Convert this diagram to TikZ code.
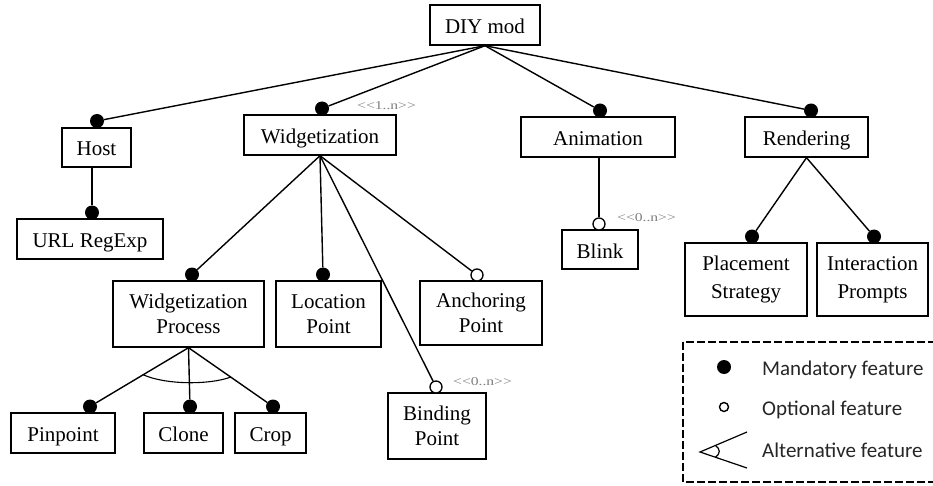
\documentclass[tikz,border=0pt]{standalone}
\usepackage{fontspec}
\setmainfont{Liberation Serif}
\newfontfamily\legendfont{Carlito}
\usetikzlibrary{calc,shadows}
\begin{document}
\begin{tikzpicture}[x=1pt,y=-1pt,
  feat/.style 2 args={draw, line width=1.4pt, fill=white, inner sep=0pt,
    minimum width=#1, minimum height=#2, align=center,
    font=\fontsize{21}{25}\selectfont,
    drop shadow={shadow xshift=1.2pt, shadow yshift=-1.2pt, fill=black!60, opacity=0.7}},
  oneline/.style={text height=17pt, text depth=0pt},
  wide/.style={font=\fontsize{21}{28}\selectfont},
  mand/.style={circle, fill=black, inner sep=0pt, minimum size=14pt},
  opt/.style={circle, draw, line width=1.3pt, fill=white, inner sep=0pt, minimum size=12pt},
  link/.style={line width=1.4pt},
  card/.style={text=black!50, inner sep=0pt, anchor=west,
    font=\fontsize{12}{12}\selectfont}]
\clip (0,0) rectangle (933,486);
\fill[white] (0,0) rectangle (933,486);

% feature boxes
\node[feat={110}{40}, oneline] (diy) at (485,25) {DIY mod};
\node[feat={69}{39}, oneline] (host) at (96.5,147.5) {Host};
\node[feat={146}{40}, oneline] (url) at (90,239) {URL RegExp};
\node[feat={152}{40}, oneline] (widg) at (320,135) {Widgetization};
\node[feat={154}{40}, oneline] (anim) at (598,137) {Animation};
\node[feat={123}{40}, oneline] (rend) at (806.5,137) {Rendering};
\node[feat={76}{39}, oneline] (blink) at (600,249.5) {Blink};
\node[feat={122}{73}, wide] (place) at (746,279.5) {Placement\\Strategy};
\node[feat={111}{73}, wide] (inter) at (872.5,279.5) {Interaction\\Prompts};
\node[feat={151}{66}] (wproc) at (188.5,314) {Widgetization\\Process};
\node[feat={105}{66}] (loc) at (328.5,314) {Location\\Point};
\node[feat={122}{64}] (anch) at (481,313) {Anchoring\\Point};
\node[feat={98}{66}] (bind) at (437,426) {Binding\\Point};
\node[feat={104}{40}, oneline] (pin) at (63,433) {Pinpoint};
\node[feat={79}{40}, oneline] (clone) at (183.5,433) {Clone};
\node[feat={71}{40}, oneline] (crop) at (270.5,433) {Crop};

% mandatory / optional markers
\node[mand] (hostdot) at (97,121) {};
\node[mand] (widgdot) at (322,108.5) {};
\node[mand] (animdot) at (600,110.5) {};
\node[mand] (renddot) at (811,110.5) {};
\node[mand] (urldot) at (92,212.5) {};
\node[opt] (blinkdot) at (599,224) {};
\node[mand] (placedot) at (752,236.5) {};
\node[mand] (interdot) at (874,236.5) {};
\node[mand] (wprocdot) at (192,274.5) {};
\node[mand] (locdot) at (323,274.5) {};
\node[opt] (anchdot) at (477,275) {};
\node[opt] (binddot) at (436,387) {};
\node[mand] (pindot) at (90,406.5) {};
\node[mand] (clonedot) at (190,406.5) {};
\node[mand] (cropdot) at (273,406.5) {};

% connectors
\draw[link] (diy.south) -- (hostdot);
\draw[link] (diy.south) -- (widgdot);
\draw[link] (diy.south) -- (animdot);
\draw[link] (diy.south) -- (renddot);
\draw[link] (host.south -| urldot) -- (urldot);
\draw[link] (anim.south -| blinkdot) -- (blinkdot);
\draw[link] (rend.south) -- (placedot);
\draw[link] (rend.south) -- (interdot);
\draw[link] (widg.south) -- (wprocdot);
\draw[link] (widg.south) -- (locdot);
\draw[link] (widg.south) -- (anchdot);
\draw[link] (widg.south) -- (binddot);
\draw[link] (wproc.south) -- (pindot);
\draw[link] (wproc.south) -- (clonedot);
\draw[link] (wproc.south) -- (cropdot);

% alternative-group arc
\coordinate (altl) at ($(wproc.south)!0.46!(pindot.center)$);
\coordinate (altr) at ($(wproc.south)!0.5!(cropdot.center)$);
\draw[line width=1.1pt] (altl) .. controls +(22,10) and +(-22,8) .. (altr);

% cardinalities
\node[card] (cwidg) at (357,106) {\scalebox{1.3}[1]{<{}<1..n>{}>}};
\node[card] (cblink) at (617,218) {\scalebox{1.3}[1]{<{}<0..n>{}>}};
\node[card] (cbind) at (453,382) {\scalebox{1.3}[1]{<{}<0..n>{}>}};

% legend
\draw[line width=2.6pt, dash pattern=on 8pt off 3pt] (683,342) rectangle (950,482);
\node[circle, fill=black, inner sep=0pt, minimum size=14pt] (lgmand) at (724,367) {};
\node[circle, draw, line width=1.4pt, inner sep=0pt, minimum size=9pt] (lgopt) at (724,407) {};
\coordinate (lgapex) at (700,452);
\coordinate (lgup) at (747,432);
\coordinate (lglow) at (747,468);
\draw[line width=1.2pt] (lgup) -- (lgapex) -- (lglow);
\draw[line width=1.2pt] ($(lgapex)!0.33!(lgup)$) .. controls +(5,4) and +(5,-4) .. ($(lgapex)!0.33!(lglow)$);
\begin{scope}[every node/.style={anchor=west, inner sep=0pt, font=\legendfont\fontsize{21}{21}\selectfont, text=black!85}]
\node (lgtm) at (762,370) {Mandatory feature};
\node (lgto) at (762,410) {Optional feature};
\node (lgta) at (762,450) {Alternative feature};
\end{scope}
\end{tikzpicture}
\end{document}
